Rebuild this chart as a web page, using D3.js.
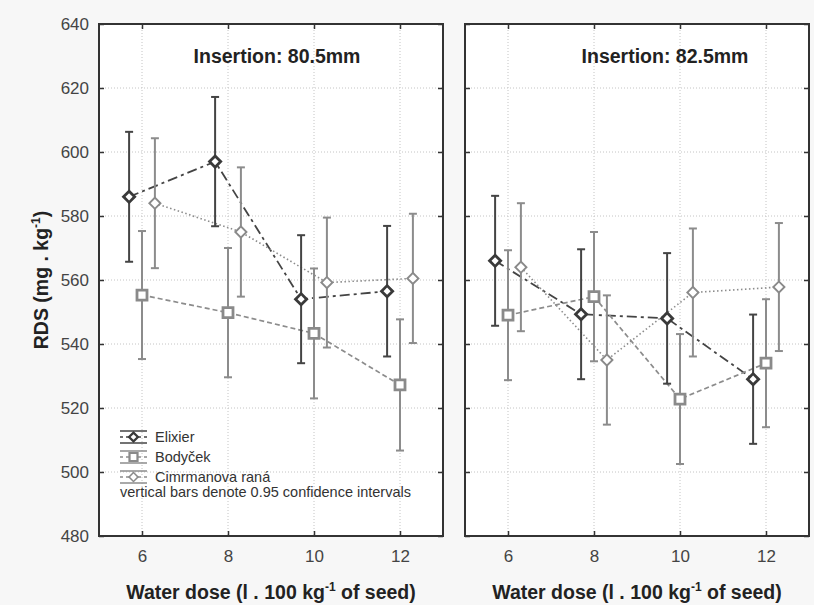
<!DOCTYPE html>
<html>
<head>
<meta charset="utf-8">
<script src="https://cdn.jsdelivr.net/npm/d3@7"></script>
<style>
  body { margin: 0; background: #f7f7f7; }
  svg { display: block; font-family: "Liberation Sans", Arial, sans-serif; }
</style>
</head>
<body>
<div id="vis"></div>
<script>
// x values (water dose) and y ticks
var doses = [6, 8, 10, 12];
var yTicks = [480, 500, 520, 540, 560, 580, 600, 620, 640];
var seriesNames = ["Elixier", "Bodyček", "Cimrmanova raná"];

// Insertion 80.5mm : means and half width of the 0.95 confidence interval
var elixier805 = [586, 597, 554, 556.5];
var elixier805ci = [20.3, 20.2, 20, 20.4];
var bodycek805 = [555.3, 549.8, 543.3, 527.2];
var bodycek805ci = [20, 20.2, 20.3, 20.5];
var cimr805 = [584, 575, 559.2, 560.5];
var cimr805ci = [20.3, 20.2, 20.3, 20.2];

// Insertion 82.5mm
var elixier825 = [566, 549.3, 548, 529];
var elixier825ci = [20.3, 20.3, 20.4, 20.2];
var bodycek825 = [549, 554.8, 522.8, 534];
var bodycek825ci = [20.3, 20.2, 20.3, 20];
var cimr825 = [564, 535, 556.1, 557.8];
var cimr825ci = [20, 20.2, 20, 20];

var panelTitles = ["Insertion: 80.5mm", "Insertion: 82.5mm"];

// build panel tables from the arrays
var panels = [
  { title: panelTitles[0], means: [elixier805, bodycek805, cimr805], cis: [elixier805ci, bodycek805ci, cimr805ci] },
  { title: panelTitles[1], means: [elixier825, bodycek825, cimr825], cis: [elixier825ci, bodycek825ci, cimr825ci] }
];

// style per series (offset is the little horizontal shift around each dose)
var styles = [
  { offset: -0.3, line: "#444", lw: 1.8, dash: "10,4,3,4", bar: "#444", marker: "diamond", mstroke: "#3a3a3a", mwidth: 2.8 },
  { offset: 0,    line: "#8c8c8c", lw: 1.7, dash: "5,3", bar: "#8c8c8c", marker: "square", mstroke: "#8a8a8a", mwidth: 2.8 },
  { offset: 0.3,  line: "#8c8c8c", lw: 1.6, dash: "1.5,2.5", bar: "#8c8c8c", marker: "diamond", mstroke: "#8a8a8a", mwidth: 1.9 }
];

var W = 814, H = 605;
var plotTop = 24, plotBottom = 536;
var panelX = [[99, 443], [465, 809]];
var titleX = [277, 665];

var svg = d3.select("#vis").append("svg")
  .attr("width", W)
  .attr("height", H);

var y = d3.scaleLinear().domain([480, 640]).range([plotBottom, plotTop]);

function markerPath(kind) {
  if (kind == "square") return d3.symbol().type(d3.symbolSquare).size(100)();
  return d3.symbol().type(d3.symbolSquare).size(62)();
}
function markerRotate(kind) {
  return kind == "diamond" ? " rotate(45)" : "";
}

panels.forEach(function(p, pi) {
  var x = d3.scaleLinear().domain([5, 13]).range(panelX[pi]);
  var g = svg.append("g");

  g.append("rect")
    .attr("x", panelX[pi][0]).attr("y", plotTop)
    .attr("width", panelX[pi][1] - panelX[pi][0]).attr("height", plotBottom - plotTop)
    .attr("fill", "white");

  // dotted grid
  g.selectAll(".gx").data(doses).enter().append("line")
    .attr("x1", d => x(d)).attr("x2", d => x(d))
    .attr("y1", plotTop).attr("y2", plotBottom)
    .attr("stroke", "#c4c4c4").attr("stroke-dasharray", "1,2");
  g.selectAll(".gy").data(yTicks.slice(1, -1)).enter().append("line")
    .attr("x1", panelX[pi][0]).attr("x2", panelX[pi][1])
    .attr("y1", d => y(d)).attr("y2", d => y(d))
    .attr("stroke", "#c4c4c4").attr("stroke-dasharray", "1,2");

  // lines
  p.means.forEach(function(m, si) {
    var st = styles[si];
    var line = d3.line()
      .x((d, i) => x(doses[i] + st.offset))
      .y(d => y(d));
    g.append("path")
      .attr("d", line(m))
      .attr("fill", "none")
      .attr("stroke", st.line)
      .attr("stroke-width", st.lw)
      .attr("stroke-dasharray", st.dash);
  });

  // confidence bars
  p.means.forEach(function(m, si) {
    var st = styles[si];
    var bars = g.append("g").attr("stroke", st.bar).attr("stroke-width", 2);
    m.forEach(function(v, i) {
      var cx = x(doses[i] + st.offset);
      var lo = y(v - p.cis[si][i]), hi = y(v + p.cis[si][i]);
      bars.append("line").attr("x1", cx).attr("x2", cx).attr("y1", lo).attr("y2", hi);
      bars.append("line").attr("x1", cx - 4).attr("x2", cx + 4).attr("y1", lo).attr("y2", lo);
      bars.append("line").attr("x1", cx - 4).attr("x2", cx + 4).attr("y1", hi).attr("y2", hi);
    });
  });

  // markers
  p.means.forEach(function(m, si) {
    var st = styles[si];
    g.selectAll(".m" + si).data(m).enter().append("path")
      .attr("d", markerPath(st.marker))
      .attr("transform", (d, i) => "translate(" + x(doses[i] + st.offset) + "," + y(d) + ")" + markerRotate(st.marker))
      .attr("fill", "white")
      .attr("stroke", st.mstroke)
      .attr("stroke-width", st.mwidth);
  });

  // axes with ticks pointing inward
  g.append("g").attr("transform", "translate(0," + plotBottom + ")")
    .call(d3.axisBottom(x).tickValues(doses).tickSizeInner(-5).tickSizeOuter(0).tickPadding(14));
  g.append("g").attr("transform", "translate(0," + plotTop + ")")
    .call(d3.axisTop(x).tickValues(doses).tickSizeInner(-5).tickSizeOuter(0).tickFormat(""));
  g.append("g").attr("transform", "translate(" + panelX[pi][0] + ",0)")
    .call(d3.axisLeft(y).tickValues(yTicks).tickSizeInner(-5).tickSizeOuter(0).tickPadding(10)
      .tickFormat(pi == 0 ? d3.format("d") : ""));
  g.append("g").attr("transform", "translate(" + panelX[pi][1] + ",0)")
    .call(d3.axisRight(y).tickValues(yTicks).tickSizeInner(-5).tickSizeOuter(0).tickFormat(""));

  g.selectAll(".domain").remove();
  g.selectAll(".tick line").attr("stroke", "#333").attr("stroke-width", 1.5);
  g.selectAll(".tick text")
    .attr("font-family", "Liberation Sans, Arial, sans-serif")
    .attr("font-size", 17).attr("fill", "#444");

  // frame
  g.append("rect")
    .attr("x", panelX[pi][0]).attr("y", plotTop)
    .attr("width", panelX[pi][1] - panelX[pi][0]).attr("height", plotBottom - plotTop)
    .attr("fill", "none").attr("stroke", "#333").attr("stroke-width", 2);

  g.append("text")
    .attr("x", titleX[pi]).attr("y", 63)
    .attr("text-anchor", "middle")
    .attr("font-size", 19.5).attr("font-weight", "bold").attr("fill", "#222")
    .text(p.title);

  // x title
  var xt = g.append("text")
    .attr("x", (panelX[pi][0] + panelX[pi][1]) / 2).attr("y", 599)
    .attr("text-anchor", "middle")
    .attr("font-size", 19.5).attr("font-weight", "bold").attr("fill", "#222");
  xt.append("tspan").text("Water dose (l . 100 kg");
  xt.append("tspan").attr("font-size", 12).attr("dy", -8).text("-1");
  xt.append("tspan").attr("dy", 8).text(" of seed)");
});

// y title
var yt = svg.append("text")
  .attr("transform", "translate(48,280) rotate(-90)")
  .attr("text-anchor", "middle")
  .attr("font-size", 19.5).attr("font-weight", "bold").attr("fill", "#222");
yt.append("tspan").text("RDS (mg . kg");
yt.append("tspan").attr("font-size", 12).attr("dy", -8).text("-1");
yt.append("tspan").attr("dy", 8).text(")");

// legend inside left panel
var legend = svg.append("g");
var legendY = [437, 457, 477];
seriesNames.forEach(function(name, si) {
  var st = styles[si];
  var ly = legendY[si];
  var lg = legend.append("g");
  lg.append("line").attr("x1", 120).attr("x2", 147).attr("y1", ly - 6).attr("y2", ly - 6)
    .attr("stroke", st.bar).attr("stroke-width", 1.5);
  lg.append("line").attr("x1", 120).attr("x2", 147).attr("y1", ly + 6).attr("y2", ly + 6)
    .attr("stroke", st.bar).attr("stroke-width", 1.5);
  lg.append("line").attr("x1", 120).attr("x2", 147).attr("y1", ly).attr("y2", ly)
    .attr("stroke", st.line).attr("stroke-width", 1.5).attr("stroke-dasharray", "3,3");
  lg.append("path")
    .attr("d", markerPath(st.marker))
    .attr("transform", "translate(133.5," + ly + ") scale(0.8)" + markerRotate(st.marker))
    .attr("fill", "white").attr("stroke", st.mstroke).attr("stroke-width", st.mwidth);
  lg.append("text").attr("x", 155).attr("y", ly + 5)
    .attr("font-size", 14.5).attr("fill", "#333").text(name);
});
legend.append("text").attr("x", 120).attr("y", 497)
  .attr("font-size", 14.5).attr("fill", "#333")
  .text("vertical bars denote 0.95 confidence intervals");
</script>
</body>
</html>
